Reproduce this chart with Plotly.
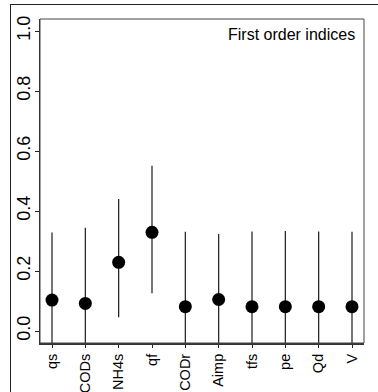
import plotly.graph_objects as go

params = ["qs", "CODs", "NH4s", "qf", "CODr", "Aimp", "tfs", "pe", "Qd", "V"]
first_order = [0.103, 0.092, 0.229, 0.329, 0.081, 0.105, 0.081, 0.081, 0.081, 0.081]
ci_upper = [0.328, 0.344, 0.440, 0.551, 0.331, 0.323, 0.332, 0.333, 0.332, 0.331]
ci_lower = [-0.12, -0.16, 0.046, 0.126, -0.17, -0.11, -0.17, -0.17, -0.17, -0.17]

xpos = list(range(1, len(params) + 1))
err_plus = [u - v for u, v in zip(ci_upper, first_order)]
err_minus = [v - l for v, l in zip(first_order, ci_lower)]

FONT = "Liberation Sans, Arial, Helvetica, sans-serif"

fig = go.Figure()
fig.add_trace(go.Scatter(
    x=xpos, y=first_order, mode="markers",
    marker=dict(size=13, color="black"),
    error_y=dict(type="data", symmetric=False, array=err_plus, arrayminus=err_minus,
                 color="#1a1a1a", thickness=1.2, width=0),
    showlegend=False,
))

fig.update_layout(
    width=378, height=392,
    margin=dict(l=40, r=14, t=19, b=49, autoexpand=False),
    paper_bgcolor="white", plot_bgcolor="white",
    font=dict(family=FONT, size=16, color="black"),
    xaxis=dict(
        range=[0.64, 10.36], tickmode="array", tickvals=xpos, ticktext=params,
        tickangle=-90, ticks="outside", ticklen=3, tickcolor="#222",
        showline=True, linecolor="#333", linewidth=2, showgrid=False, zeroline=False,
        tickfont=dict(size=14.5), automargin=False,
    ),
    yaxis=dict(
        range=[-0.04, 1.04], tickmode="array", tickvals=[0, 0.2, 0.4, 0.6, 0.8, 1.0],
        ticktext=["0.0", "0.2", "0.4", "0.6", "0.8", "1.0"],
        tickangle=-90, ticks="outside", ticklen=4, tickcolor="#222",
        showline=True, linecolor="#222", linewidth=1.3, showgrid=False, zeroline=False,
        tickfont=dict(size=18), automargin=False, ticklabelstandoff=-2,
    ),
    annotations=[
        dict(text="First order indices", xref="paper", yref="paper", x=0.978, y=0.951,
             xanchor="right", yanchor="middle", showarrow=False, font=dict(size=16)),
        dict(text=" ", xref="paper", yref="paper", x=-0.0926, y=1.0463,
             xanchor="left", yanchor="top", showarrow=False, width=600, height=600,
             bordercolor="#222", borderwidth=1, borderpad=0),
    ],
)
fig.add_shape(type="rect", xref="paper", yref="paper", x0=0, x1=1, y0=0, y1=1,
              line=dict(color="#444", width=1))

fig.write_html("out.html", config={"displayModeBar": False},
               post_script="document.body.style.margin='0';")
